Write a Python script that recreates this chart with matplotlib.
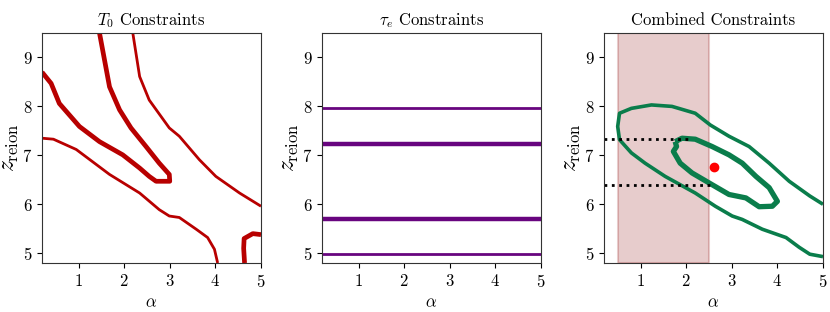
import matplotlib
matplotlib.use("Agg")
import matplotlib.pyplot as plt

plt.rcParams['font.family'] = ['cmr10', 'DejaVu Serif']
plt.rcParams['mathtext.fontset'] = 'cm'
plt.rcParams['axes.formatter.use_mathtext'] = True
plt.rcParams['axes.unicode_minus'] = False

# ---- data ----
xlim = (0.2, 5.0)
ylim = (4.8, 9.5)
xticks = [1, 2, 3, 4, 5]
yticks = [5, 6, 7, 8, 9]

# T0 panel contours
t0_inner_x = [1.46, 1.68, 1.90, 2.15, 2.48, 2.77, 2.99, 3.00, 2.70, 2.55, 2.34, 1.97, 1.46, 1.02, 0.58, 0.40, 0.20]
t0_inner_y = [9.50, 8.40, 7.93, 7.56, 7.18, 6.84, 6.61, 6.47, 6.47, 6.57, 6.74, 7.01, 7.28, 7.59, 8.06, 8.47, 8.70]
t0_outer_up_x = [2.19, 2.34, 2.55, 2.99, 3.21, 3.65, 4.01, 4.53, 5.00]
t0_outer_up_y = [9.50, 8.61, 8.13, 7.56, 7.39, 6.91, 6.57, 6.23, 5.96]
t0_outer_lo_x = [0.20, 0.45, 0.95, 1.68, 2.34, 2.77, 2.99, 3.21, 3.58, 3.83, 3.98, 4.05]
t0_outer_lo_y = [7.35, 7.33, 7.12, 6.61, 6.23, 5.89, 5.76, 5.73, 5.49, 5.32, 5.08, 4.80]
t0_corner_x = [4.64, 4.62, 4.63, 4.82, 5.00]
t0_corner_y = [4.80, 5.10, 5.30, 5.40, 5.38]

# tau_e panel levels
tau_inner = [5.69, 7.24]
tau_outer = [4.98, 7.96]

# combined panel
comb_outer_x = [5.00, 4.71, 4.26, 3.82, 3.38, 2.94, 2.53, 2.20, 1.69, 1.24, 0.80, 0.54, 0.50, 0.54,
                0.80, 1.10, 1.54, 2.20, 2.64, 3.01, 3.23, 3.67, 4.19, 4.48, 4.71, 5.00]
comb_outer_y = [6.00, 6.17, 6.47, 6.84, 7.18, 7.39, 7.62, 7.86, 8.00, 8.03, 7.96, 7.86, 7.59, 7.32,
                7.05, 6.84, 6.57, 6.23, 5.96, 5.76, 5.69, 5.49, 5.32, 5.12, 4.98, 4.93]
comb_inner_x = [1.76, 1.91, 2.20, 2.57, 2.94, 3.23, 3.53, 3.82, 4.00, 3.89, 3.60, 3.31, 2.94, 2.57,
                2.13, 1.87, 1.72, 1.79, 1.76]
comb_inner_y = [7.28, 7.35, 7.33, 7.18, 7.01, 6.84, 6.57, 6.34, 6.06, 5.96, 5.95, 6.13, 6.20, 6.40,
                6.64, 6.84, 7.08, 7.18, 7.28]
alpha_band = (0.5, 2.5)
z_bounds = [7.33, 6.39]
z_bound_xend = [2.05, 2.55]
best_fit = (2.61, 6.76)

red = '#b80000'
purple = '#68057f'
green = '#0a7d4b'

fig = plt.figure(figsize=(8.3, 3.12), dpi=100)
W, H = 830, 312
def add_ax(left):
    return fig.add_axes([left / W, (H - 263) / H, 219 / W, 230 / H])

ax1 = add_ax(42)
ax2 = add_ax(322)
ax3 = add_ax(604)

kw = dict(solid_joinstyle='round', solid_capstyle='butt')

# panel 1
ax1.plot(t0_inner_x, t0_inner_y, color=red, lw=3.4, **kw)
ax1.plot(t0_outer_up_x, t0_outer_up_y, color=red, lw=2.0, **kw)
ax1.plot(t0_outer_lo_x, t0_outer_lo_y, color=red, lw=2.0, **kw)
ax1.plot(t0_corner_x, t0_corner_y, color=red, lw=3.4, **kw)
ax1.set_title(r'$T_0$ Constraints', fontsize=12)

# panel 2
for y in tau_inner:
    ax2.axhline(y, color=purple, lw=3.2)
for y in tau_outer:
    ax2.axhline(y, color=purple, lw=2.0)
ax2.set_title(r'$\tau_e$ Constraints', fontsize=12)

# panel 3
ax3.axvspan(alpha_band[0], alpha_band[1], color='darkred', alpha=0.2, lw=1.5)
ax3.plot(comb_outer_x, comb_outer_y, color=green, lw=2.6, **kw)
ax3.plot(comb_inner_x, comb_inner_y, color=green, lw=3.8, **kw)
for y, xe in zip(z_bounds, z_bound_xend):
    ax3.plot([xlim[0], xe], [y, y], color='black', ls=':', lw=2)
ax3.plot([best_fit[0]], [best_fit[1]], 'o', color='red', ms=6, zorder=5)
ax3.set_title('Combined Constraints', fontsize=12)

for ax in (ax1, ax2, ax3):
    ax.set_xlim(*xlim)
    ax.set_ylim(*ylim)
    ax.set_xticks(xticks)
    ax.set_yticks(yticks)
    ax.set_xlabel(r'$\alpha$', fontsize=12)
    ax.set_ylabel(r'$z_{\rm reion}$', fontsize=17, labelpad=1)
    ax.tick_params(labelsize=12)
    for s in ax.spines.values():
        s.set_color('#333333')

fig.savefig('out.png', dpi=100)
